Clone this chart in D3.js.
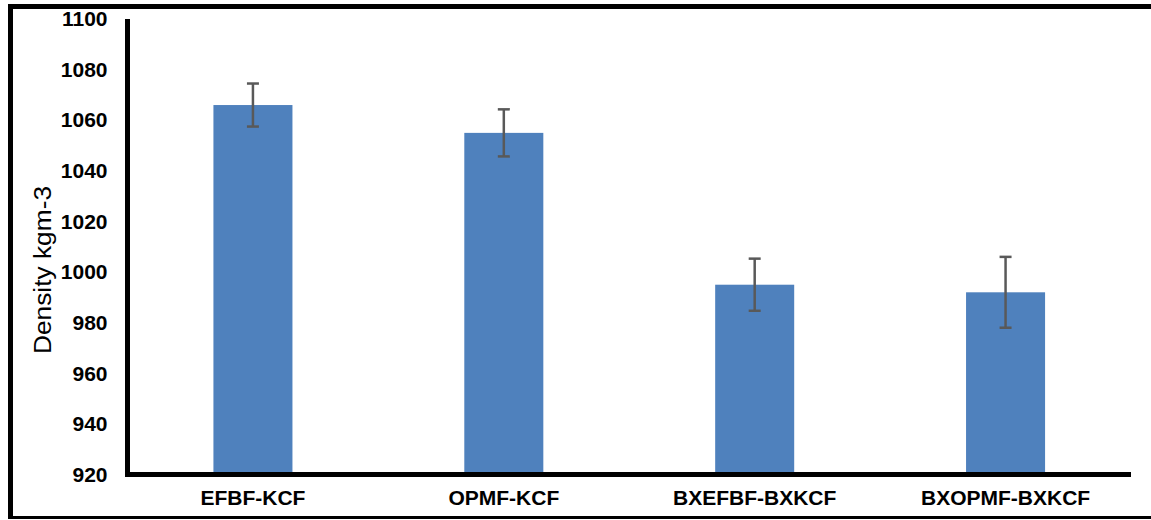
<!DOCTYPE html>
<html><head><meta charset="utf-8">
<script src="https://cdn.jsdelivr.net/npm/d3@7"></script>
<style>html,body{margin:0;padding:0;background:#fff;}svg{display:block;}</style>
</head><body>
<svg id="c" width="1151" height="520"></svg>
<script>
const categories = ["EFBF-KCF", "OPMF-KCF", "BXEFBF-BXKCF", "BXOPMF-BXKCF"];
const values = [1066, 1055, 995, 992];
const errors = [8.5, 9.3, 10.3, 14];
const yTicks = [920, 940, 960, 980, 1000, 1020, 1040, 1060, 1080, 1100];
const yLabel = "Density kgm-3";

const svg = d3.select("#c");
const x = d3.scaleBand().domain(categories).range([127.5, 1131]).paddingInner(0.685).paddingOuter(0.3425);
const y = d3.scaleLinear().domain([920, 1100]).range([474.5, 19]);

// outer frame
svg.append("line").attr("x1", 8).attr("x2", 1151).attr("y1", 6.5).attr("y2", 6.5).attr("stroke", "#000").attr("stroke-width", 5);
svg.append("line").attr("x1", 10.5).attr("x2", 10.5).attr("y1", 4).attr("y2", 519).attr("stroke", "#000").attr("stroke-width", 5);
svg.append("line").attr("x1", 8).attr("x2", 1151).attr("y1", 517.5).attr("y2", 517.5).attr("stroke", "#000").attr("stroke-width", 3);

// bars
svg.selectAll("rect.bar").data(categories).enter().append("rect")
  .attr("class", "bar")
  .attr("x", d => x(d))
  .attr("width", x.bandwidth())
  .attr("y", (d, i) => y(values[i]))
  .attr("height", (d, i) => y(920) - y(values[i]))
  .attr("fill", "#4F81BD");

// error bars
const eg = svg.append("g").attr("stroke", "#595959").attr("stroke-width", 2.5);
categories.forEach((c, i) => {
  const cx = x(c) + x.bandwidth() / 2;
  eg.append("line").attr("x1", cx).attr("x2", cx).attr("y1", y(values[i] + errors[i])).attr("y2", y(values[i] - errors[i]));
  eg.append("line").attr("x1", cx - 6).attr("x2", cx + 6).attr("y1", y(values[i] + errors[i])).attr("y2", y(values[i] + errors[i]));
  eg.append("line").attr("x1", cx - 6).attr("x2", cx + 6).attr("y1", y(values[i] - errors[i])).attr("y2", y(values[i] - errors[i]));
});

// y axis
const ya = svg.append("g").attr("transform", "translate(127.5,0)")
  .call(d3.axisLeft(y).tickValues(yTicks).tickSize(0).tickPadding(20).tickFormat(d3.format("d")));
ya.select(".domain").attr("stroke", "#000").attr("stroke-width", 5).attr("d", `M0,${y(1100)}V${y(920) + 2.5}`);
ya.selectAll("text").attr("font-family", "Arial, 'Liberation Sans', sans-serif").attr("font-weight", "bold").attr("font-size", 21).attr("fill", "#000");

// x axis
const xa = svg.append("g").attr("transform", `translate(0,${y(920)})`)
  .call(d3.axisBottom(x).tickSize(0).tickPadding(16));
xa.select(".domain").attr("stroke", "#000").attr("stroke-width", 5).attr("d", "M125,0H1131");
xa.selectAll("text").attr("font-family", "Arial, 'Liberation Sans', sans-serif").attr("font-weight", "bold").attr("font-size", 21).attr("fill", "#000");

// y label
svg.append("text")
  .attr("transform", "translate(51,270) rotate(-90)")
  .attr("text-anchor", "middle")
  .attr("font-family", "Arial, 'Liberation Sans', sans-serif")
  .attr("font-size", 23)
  .attr("textLength", 168)
  .attr("lengthAdjust", "spacingAndGlyphs")
  .attr("fill", "#000")
  .text(yLabel);
</script>
</body></html>
